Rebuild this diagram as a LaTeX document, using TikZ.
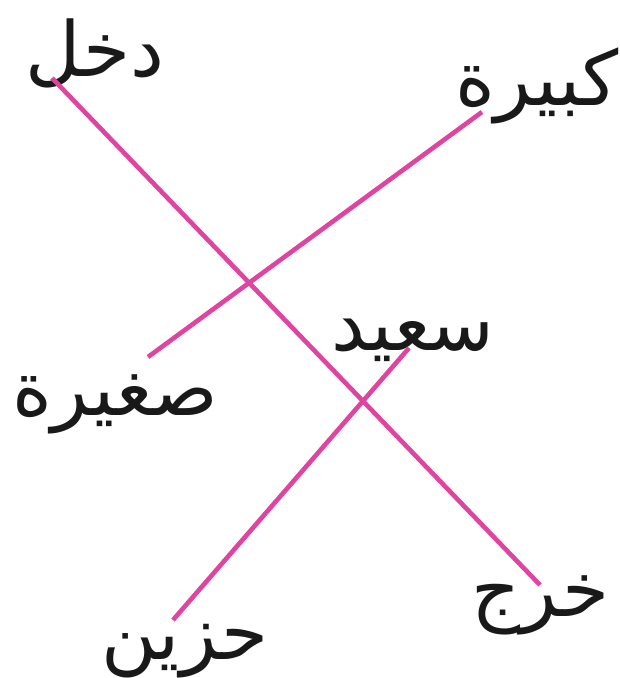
\documentclass[tikz,border=0pt]{standalone}
\usepackage{fontspec}
\TeXXeTstate=1
\newfontfamily\arabicfont[Script=Arabic]{DejaVu Sans}
\definecolor{linkpink}{RGB}{222,68,160}
\tikzset{
  word/.style={inner sep=0pt, font=\arabicfont\fontsize{76}{90}\selectfont, text=black!90},
  link/.style={draw=linkpink, line width=4.6pt}
}
\begin{document}
\begin{tikzpicture}[x=1pt,y=-1pt]
\useasboundingbox (0,0) rectangle (620,678);
\node[word] (dakhal) at (95,53) {\beginR دخل\endR};
\node[word] (kabira) at (537,86) {\beginR كبيرة\endR};
\node[word] (saghira) at (115,404) {\beginR صغيرة\endR};
\node[word] (said) at (413,340) {\beginR سعيد\endR};
\node[word] (hazin) at (185,651) {\beginR حزين\endR};
\node[word] (kharaj) at (540,605) {\beginR خرج\endR};
\coordinate (dakhalEnd) at (52,78);
\coordinate (kharajEnd) at (540,585);
\coordinate (kabiraEnd) at (482,112);
\coordinate (saghiraEnd) at (148,357);
\coordinate (saidEnd) at (409,348);
\coordinate (hazinEnd) at (173,620);
\draw[link] (dakhalEnd) -- (kharajEnd);
\draw[link] (kabiraEnd) -- (saghiraEnd);
\draw[link] (saidEnd) -- (hazinEnd);
\end{tikzpicture}
\end{document}
